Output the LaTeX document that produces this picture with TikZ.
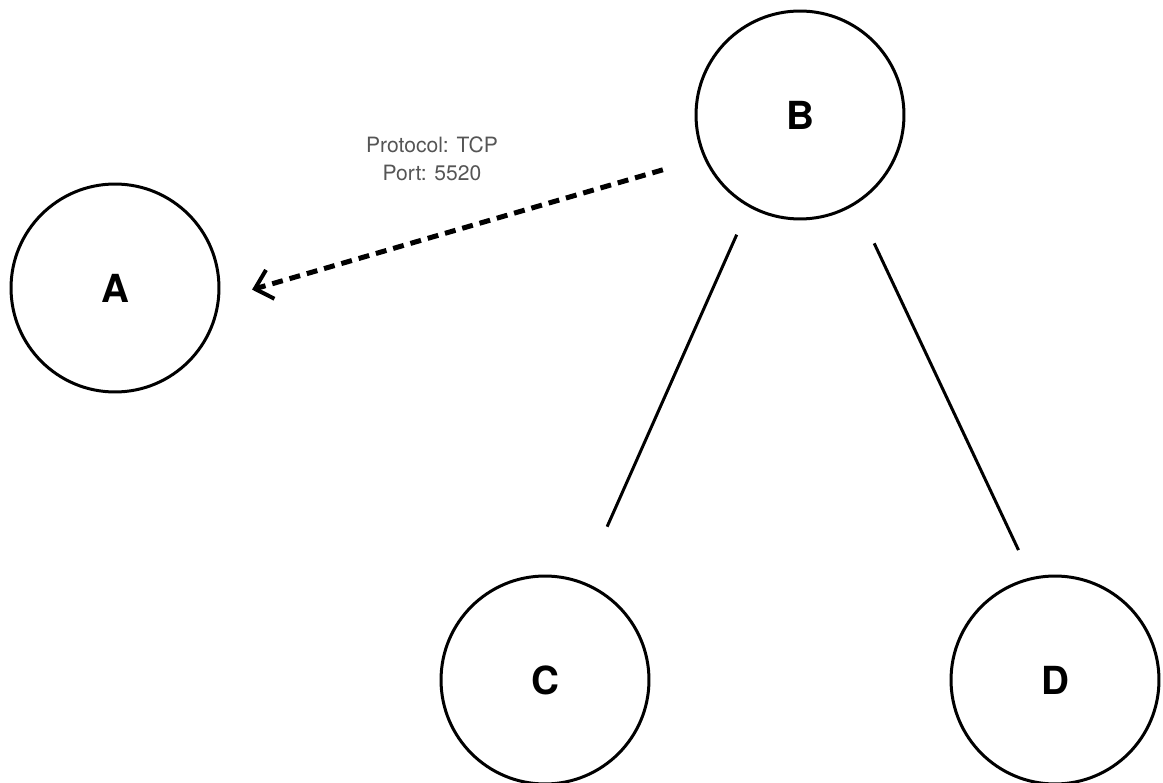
\documentclass[tikz,border=0pt]{standalone}
\usepackage{fontspec}
\setmainfont{TeX Gyre Heros}
\usetikzlibrary{arrows.meta}
\definecolor{labelgray}{HTML}{555555}
\tikzset{
  vertex/.style={draw, circle, line width=0.06cm, minimum size=4.16cm, inner sep=0pt,
    font=\fontsize{22}{26}\selectfont\bfseries},
  link/.style={line width=0.06cm},
  flow/.style={line width=0.1cm, dash pattern=on 0.22cm off 0.14cm,
    -{Straight Barb[length=0.32cm,width=0.6cm,line width=0.08cm]}},
  note/.style={align=center, text=labelgray, font=\fontsize{12}{16}\selectfont}
}
\begin{document}
\begin{tikzpicture}[x=0.02cm,y=-0.02cm]
  \useasboundingbox (0,0) rectangle (1163,783);
  \draw
    (115,288) node[vertex] (A){A}
    (800,115) node[vertex] (B){B}
    (545,680) node[vertex] (C){C}
    (1055,680) node[vertex] (D){D};
  \node[note] (port) at (432,159) {Protocol: TCP\\Port: 5520};
  \begin{scope}[-]
    \draw[link, shorten <=0.6cm, shorten >=1.2cm] (B.-119) to (C.69);
    \draw[link, shorten <=0.86cm, shorten >=0.6cm] (B.-58) to (D.103);
    \draw[flow, shorten <=0.85cm, shorten >=0.67cm] (B.204) to (A.-6);
  \end{scope}
\end{tikzpicture}
\end{document}
